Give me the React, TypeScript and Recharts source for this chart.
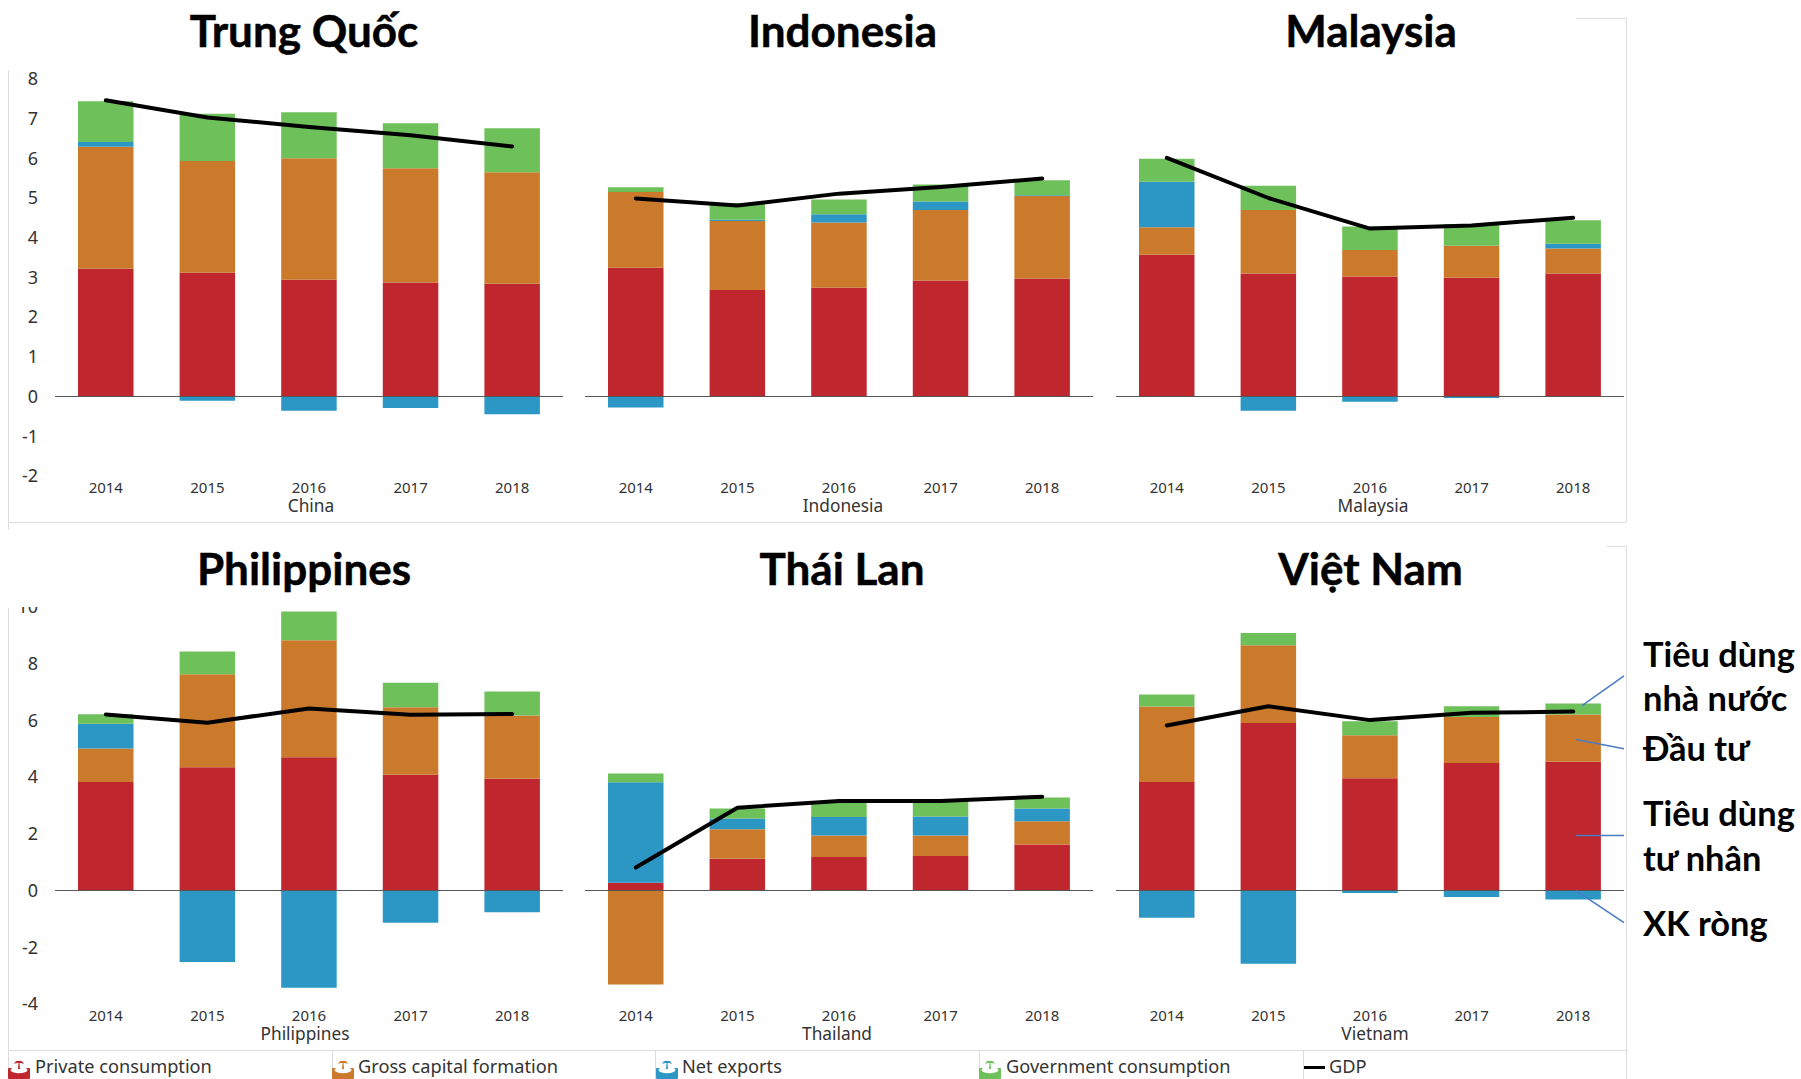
import { Bar, ComposedChart, Line, ReferenceLine, XAxis, YAxis } from 'recharts'

const years = ['2014', '2015', '2016', '2017', '2018']

// Contributions to GDP growth, percentage points
const chinaPrivate = [3.22, 3.12, 2.94, 2.87, 2.84]
const chinaCapital = [3.07, 2.81, 3.06, 2.88, 2.81]
const chinaExports = [0.12, -0.11, -0.36, -0.29, -0.45]
const chinaGovernment = [1.03, 1.19, 1.16, 1.13, 1.11]
const chinaGdp = [7.46, 7.03, 6.79, 6.58, 6.3]

const indonesiaPrivate = [3.24, 2.68, 2.74, 2.92, 2.97]
const indonesiaCapital = [1.91, 1.74, 1.64, 1.78, 2.08]
const indonesiaExports = [-0.28, 0.03, 0.21, 0.21, 0.02]
const indonesiaGovernment = [0.12, 0.42, 0.37, 0.43, 0.38]
const indonesiaGdp = [4.99, 4.81, 5.11, 5.28, 5.49]

const malaysiaPrivate = [3.57, 3.1, 3.02, 2.99, 3.1]
const malaysiaCapital = [0.69, 1.6, 0.67, 0.81, 0.63]
const malaysiaExports = [1.15, -0.36, -0.13, -0.04, 0.12]
const malaysiaGovernment = [0.58, 0.61, 0.59, 0.54, 0.59]
const malaysiaGdp = [6.01, 5.0, 4.23, 4.31, 4.5]

const philippinesPrivate = [3.83, 4.35, 4.7, 4.08, 3.94]
const philippinesCapital = [1.18, 3.28, 4.13, 2.38, 2.23]
const philippinesExports = [0.87, -2.52, -3.43, -1.14, -0.77]
const philippinesGovernment = [0.34, 0.8, 1.01, 0.87, 0.85]
const philippinesGdp = [6.21, 5.92, 6.42, 6.2, 6.23]

const thailandPrivate = [0.27, 1.12, 1.18, 1.22, 1.62]
const thailandCapital = [-3.32, 1.04, 0.76, 0.72, 0.82]
const thailandExports = [3.55, 0.38, 0.65, 0.67, 0.45]
const thailandGovernment = [0.31, 0.35, 0.56, 0.54, 0.39]
const thailandGdp = [0.81, 2.92, 3.16, 3.16, 3.31]

const vietnamPrivate = [3.83, 5.91, 3.96, 4.5, 4.54]
const vietnamCapital = [2.66, 2.74, 1.52, 1.62, 1.67]
const vietnamExports = [-0.96, -2.58, -0.09, -0.23, -0.32]
const vietnamGovernment = [0.42, 0.43, 0.49, 0.38, 0.39]
const vietnamGdp = [5.82, 6.5, 6.01, 6.27, 6.31]

const topTicks = [-2, -1, 0, 1, 2, 3, 4, 5, 6, 7, 8]
const bottomTicks = [-4, -2, 0, 2, 4, 6, 8, 10]

const RED = '#c0262e'
const ORANGE = '#cb7a2c'
const BLUE = '#2c97c5'
const GREEN = '#6ec05b'

const TITLE_FONT = 'Lato, "Open Sans", sans-serif'
const CHART_FONT = '"Noto Sans", sans-serif'

const table = (a: number[], b: number[], c: number[], d: number[], gdp: number[]) =>
  years.map((year, i) => ({ year, private: a[i], capital: b[i], exports: c[i], government: d[i], gdp: gdp[i] }))

interface PanelProps {
  rows: ReturnType<typeof table>
  country: string
  left: number
  top: number
  height: number
  marginTop: number
  domain: number[]
  ticks: number[]
  labelShift: number
  showY?: boolean
}

function Panel({ rows, country, left, top, height, marginTop, domain, ticks, labelShift, showY }: PanelProps) {
  const axisWidth = showY ? 47 : 0
  return (
    <div style={{ position: 'absolute', left, top }}>
      <ComposedChart
        width={508 + axisWidth}
        height={height}
        data={rows}
        stackOffset="sign"
        margin={{ top: marginTop, right: 0, bottom: 0, left: 0 }}
      >
        <XAxis
          dataKey="year"
          height={46}
          axisLine={false}
          tickLine={false}
          tickSize={0}
          tickMargin={6}
          interval={0}
          tick={{ fontSize: 15, fill: '#333', fontFamily: CHART_FONT }}
          label={{
            value: country,
            position: 'insideBottom',
            offset: 9.5,
            dx: labelShift,
            fontSize: 17.3,
            fill: '#333',
            fontFamily: CHART_FONT,
          }}
        />
        <YAxis
          type="number"
          hide={!showY}
          width={axisWidth}
          domain={domain}
          ticks={ticks}
          interval={0}
          axisLine={false}
          tickLine={false}
          tickSize={0}
          tickMargin={17}
          tick={{ fontSize: 18, fill: '#333', fontFamily: CHART_FONT }}
        />
        <Bar dataKey="private" stackId="gdp" fill={RED} barSize={55.5} isAnimationActive={false} />
        <Bar dataKey="capital" stackId="gdp" fill={ORANGE} barSize={55.5} isAnimationActive={false} />
        <Bar dataKey="exports" stackId="gdp" fill={BLUE} barSize={55.5} isAnimationActive={false} />
        <Bar dataKey="government" stackId="gdp" fill={GREEN} barSize={55.5} isAnimationActive={false} />
        <ReferenceLine y={0} stroke="#555" strokeWidth={1} />
        <Line
          dataKey="gdp"
          stroke="#000"
          strokeWidth={4}
          strokeLinecap="round"
          strokeLinejoin="round"
          dot={false}
          isAnimationActive={false}
        />
      </ComposedChart>
    </div>
  )
}

function Title({ text, center, baseline }: { text: string; center: number; baseline: number }) {
  return (
    <div
      style={{
        position: 'absolute',
        left: center - 200,
        width: 400,
        top: baseline - 42,
        lineHeight: '50px',
        textAlign: 'center',
        fontFamily: TITLE_FONT,
        fontWeight: 700,
        fontSize: 44,
        WebkitTextStroke: '0.5px #000',
        color: '#000',
      }}
    >
      {text}
    </div>
  )
}

function Note({ text, baseline }: { text: string; baseline: number }) {
  return (
    <div
      style={{
        position: 'absolute',
        left: 1643,
        top: baseline - 32,
        lineHeight: '40px',
        fontFamily: TITLE_FONT,
        fontWeight: 700,
        fontSize: 34.4,
        color: '#000',
        whiteSpace: 'nowrap',
      }}
    >
      {text}
    </div>
  )
}

// Small tray-and-palm swatch used in the legend row
function LegendIcon({ color, left }: { color: string; left: number }) {
  return (
    <svg style={{ position: 'absolute', left, top: 1059 }} width={22} height={20}>
      <rect x={0} y={9} width={22} height={11} rx={1} fill={color} />
      <ellipse cx={11} cy={11} rx={8.5} ry={3.2} fill="#fff" />
      <path d="M10 10 L10.5 4 H11.5 L12 10 Z" fill={color} />
      <path d="M6 5 Q8 0.5 11 2 Q14 0.5 16 5 Q13.5 3.5 11 4 Q8.5 3.5 6 5 Z" fill={color} />
    </svg>
  )
}

function LegendText({ text, left }: { text: string; left: number }) {
  return (
    <div
      style={{
        position: 'absolute',
        left,
        top: 1053,
        lineHeight: '26px',
        fontFamily: CHART_FONT,
        fontSize: 18.2,
        color: '#333',
        whiteSpace: 'nowrap',
      }}
    >
      {text}
    </div>
  )
}

export default function App() {
  const frame = '#dcdcdc'
  const note = '#4a7cc4'
  return (
    <div style={{ position: 'absolute', left: 0, top: 0, width: 1801, height: 1079, overflow: 'hidden', background: '#fff' }}>
      {/* Panel frames */}
      <svg style={{ position: 'absolute', left: 0, top: 0 }} width={1801} height={1079}>
        <path d="M8.5 70 V530 M8.5 608 V1079 M8 522.5 H1626 M8 1050.5 H1626" stroke={frame} fill="none" />
        <path d="M1576 18.5 H1626.5 V522 M1607 546.5 H1626.5 V1079" stroke={frame} fill="none" />
        <path d="M332.5 1050 V1079 M655.5 1050 V1079 M979.5 1050 V1079 M1303.5 1050 V1079" stroke={frame} fill="none" />
      </svg>

      <Title text="Trung Quốc" center={304} baseline={46.5} />
      <Title text="Indonesia" center={842.5} baseline={46.5} />
      <Title text="Malaysia" center={1371} baseline={46.5} />
      <Title text="Philippines" center={304} baseline={584.7} />
      <Title text="Thái Lan" center={842} baseline={584.7} />
      <Title text="Việt Nam" center={1370.5} baseline={584.7} />

      <Panel
        rows={table(chinaPrivate, chinaCapital, chinaExports, chinaGovernment, chinaGdp)}
        country="China"
        left={8}
        top={64}
        height={457.9}
        marginTop={14.9}
        domain={[-2, 8]}
        ticks={topTicks}
        labelShift={2}
        showY
      />
      <Panel
        rows={table(indonesiaPrivate, indonesiaCapital, indonesiaExports, indonesiaGovernment, indonesiaGdp)}
        country="Indonesia"
        left={585}
        top={64}
        height={457.9}
        marginTop={14.9}
        domain={[-2, 8]}
        ticks={topTicks}
        labelShift={4}
      />
      <Panel
        rows={table(malaysiaPrivate, malaysiaCapital, malaysiaExports, malaysiaGovernment, malaysiaGdp)}
        country="Malaysia"
        left={1115.5}
        top={64}
        height={457.9}
        marginTop={14.9}
        domain={[-2, 8]}
        ticks={topTicks}
        labelShift={3}
      />
      <Panel
        rows={table(philippinesPrivate, philippinesCapital, philippinesExports, philippinesGovernment, philippinesGdp)}
        country="Philippines"
        left={8}
        top={607}
        height={442.9}
        marginTop={0}
        domain={[-4, 10]}
        ticks={bottomTicks}
        labelShift={-4}
        showY
      />
      <Panel
        rows={table(thailandPrivate, thailandCapital, thailandExports, thailandGovernment, thailandGdp)}
        country="Thailand"
        left={585}
        top={607}
        height={442.9}
        marginTop={0}
        domain={[-4, 10]}
        ticks={bottomTicks}
        labelShift={-2}
      />
      <Panel
        rows={table(vietnamPrivate, vietnamCapital, vietnamExports, vietnamGovernment, vietnamGdp)}
        country="Vietnam"
        left={1115.5}
        top={607}
        height={442.9}
        marginTop={0}
        domain={[-4, 10]}
        ticks={bottomTicks}
        labelShift={5}
      />

      {/* Callout leaders and the GDP legend key */}
      <svg style={{ position: 'absolute', left: 0, top: 0, pointerEvents: 'none' }} width={1801} height={1079}>
        <line x1={1624} y1={675.8} x2={1582} y2={705.7} stroke={note} strokeWidth={1.5} />
        <line x1={1624} y1={748.7} x2={1576} y2={739.4} stroke={note} strokeWidth={1.5} />
        <line x1={1624} y1={835.6} x2={1576} y2={835.6} stroke={note} strokeWidth={1.5} />
        <line x1={1624} y1={922.6} x2={1576} y2={890.6} stroke={note} strokeWidth={1.5} />
        <rect x={1304} y={1066} width={21} height={3} fill="#000" />
      </svg>

      <Note text="Tiêu dùng" baseline={665.5} />
      <Note text="nhà nước" baseline={710} />
      <Note text="Đầu tư" baseline={760} />
      <Note text="Tiêu dùng" baseline={824.6} />
      <Note text="tư nhân" baseline={870} />
      <Note text="XK ròng" baseline={935} />

      <LegendIcon color={RED} left={8} />
      <LegendText text="Private consumption" left={35} />
      <LegendIcon color={ORANGE} left={332} />
      <LegendText text="Gross capital formation" left={358} />
      <LegendIcon color={BLUE} left={656} />
      <LegendText text="Net exports" left={682} />
      <LegendIcon color={GREEN} left={979} />
      <LegendText text="Government consumption" left={1006} />
      <LegendText text="GDP" left={1329} />
    </div>
  )
}
